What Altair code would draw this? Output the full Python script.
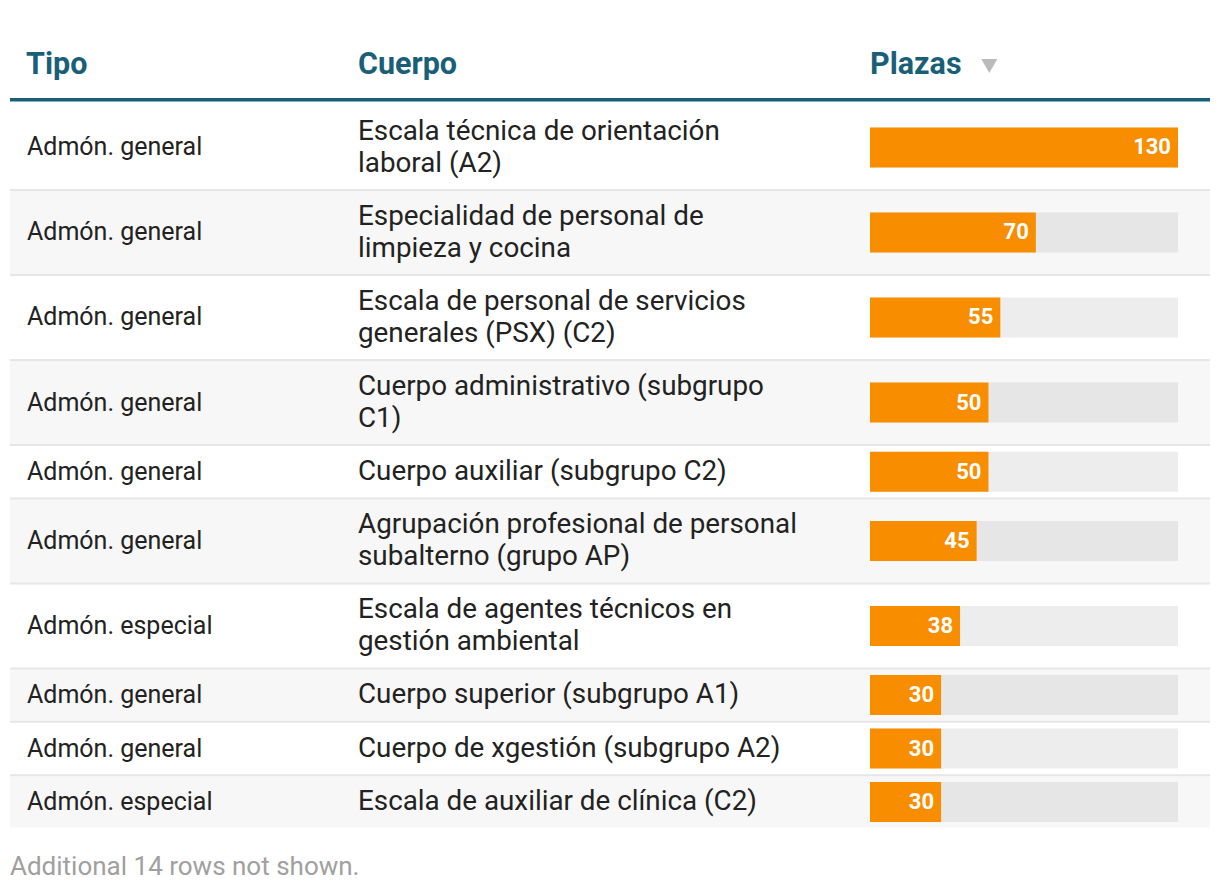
import altair as alt
import pandas as pd

# ---- data ----
tipos = ["Admón. general", "Admón. general", "Admón. general", "Admón. general",
         "Admón. general", "Admón. general", "Admón. especial", "Admón. general",
         "Admón. general", "Admón. especial"]
cuerpos = ["Escala técnica de orientación\nlaboral (A2)",
           "Especialidad de personal de\nlimpieza y cocina",
           "Escala de personal de servicios\ngenerales (PSX) (C2)",
           "Cuerpo administrativo (subgrupo\nC1)",
           "Cuerpo auxiliar (subgrupo C2)",
           "Agrupación profesional de personal\nsubalterno (grupo AP)",
           "Escala de agentes técnicos en\ngestión ambiental",
           "Cuerpo superior (subgrupo A1)",
           "Cuerpo de xgestión (subgrupo A2)",
           "Escala de auxiliar de clínica (C2)"]
plazas = [130, 70, 55, 50, 50, 45, 38, 30, 30, 30]
headers = ["Tipo", "Cuerpo", "Plazas"]
footer = "Additional 14 rows not shown."

# ---- layout (chart pixel coordinates; page = chart + 8) ----
W, H = 1204, 876
LINE_H = 32
PAD_V = 20
SEP = 2
start = 94

rows = []
y = start
for i, (t, c, p) in enumerate(zip(tipos, cuerpos, plazas)):
    n = c.count("\n") + 1
    h = LINE_H * n + PAD_V
    rows.append(dict(tipo=t, cuerpo=c, plazas=p, top=y, bottom=y + h,
                     mid=y + h / 2, text_y=y + h / 2 - (n - 1) * LINE_H / 2,
                     sep_top=y + h, sep_bottom=y + h + SEP,
                     shade="gray" if i % 2 == 1 else "white",
                     last=(i == len(tipos) - 1)))
    y = y + h + SEP
df = pd.DataFrame(rows)

ORANGE = "#f98d00"
TEAL = "#1a5f78"
FONT = "Roboto"

yscale = alt.Scale(domain=[0, H], range=[0, H], zero=False, nice=False)
xscale = alt.Scale(domain=[0, max(plazas)], range=[862, 1170], zero=True, nice=False)

base = alt.Chart(df)

bg = base.transform_filter(alt.datum.shade == "gray").mark_rect(color="#f7f7f7").encode(
    x=alt.value(2), x2=alt.value(1202),
    y=alt.Y("top:Q", scale=yscale, axis=None), y2="bottom:Q")

seps = base.transform_filter(alt.datum.last == False).mark_rect(color="#e6e6e6").encode(
    x=alt.value(2), x2=alt.value(1202),
    y=alt.Y("sep_top:Q", scale=yscale, axis=None), y2="sep_bottom:Q")

track = base.mark_bar(height=40).encode(
    x=alt.value(862), x2=alt.value(1170),
    y=alt.Y("mid:Q", scale=yscale, axis=None),
    color=alt.Color("shade:N", scale=alt.Scale(domain=["white", "gray"],
                                                range=["#ededed", "#e6e6e6"]), legend=None))

bars = base.mark_bar(color=ORANGE, height=40).encode(
    x=alt.X("plazas:Q", scale=xscale, axis=None), x2=alt.value(862),
    y=alt.Y("mid:Q", scale=yscale, axis=None))

labels = base.mark_text(align="right", baseline="middle", dx=-7, font=FONT,
                        fontSize=22, fontWeight="bold", color="white").encode(
    x=alt.X("plazas:Q", scale=xscale, axis=None),
    y=alt.Y("mid:Q", scale=yscale, axis=None),
    text="plazas:Q")

tipo_txt = base.mark_text(align="left", baseline="middle", font=FONT, fontSize=25,
                          color="#222222").encode(
    x=alt.value(19), y=alt.Y("mid:Q", scale=yscale, axis=None), text="tipo:N")

cuerpo_txt = base.mark_text(align="left", baseline="middle", font=FONT, fontSize=27.8,
                            color="#222222", lineBreak="\n", lineHeight=LINE_H).encode(
    x=alt.value(350), y=alt.Y("text_y:Q", scale=yscale, axis=None), text="cuerpo:N")

head_x = [18, 350, 862]
head_layers = []
for htxt, hx in zip(headers, head_x):
    head_layers.append(
        alt.Chart(pd.DataFrame({"h": [htxt]})).mark_text(
            align="left", baseline="alphabetic", font=FONT, fontSize=30.5,
            fontWeight="bold", color=TEAL).encode(
            x=alt.value(hx), y=alt.value(66), text="h:N"))

one = alt.Chart(pd.DataFrame({"k": [0]}))
head_line = one.mark_rect(color=TEAL).encode(
    x=alt.value(2), x2=alt.value(1202), y=alt.value(90), y2=alt.value(93.5))

tri = one.mark_point(shape="triangle-down", filled=True, color="#bbbbbb",
                     size=256, opacity=1).encode(x=alt.value(981.3), y=alt.value(58))

foot = alt.Chart(pd.DataFrame({"t": [footer]})).mark_text(
    align="left", baseline="alphabetic", font=FONT, fontSize=26, color="#a0a0a0").encode(
    x=alt.value(2), y=alt.value(867), text="t:N")

chart = alt.layer(bg, seps, track, bars, labels, tipo_txt, cuerpo_txt,
                  head_line, tri, foot, *head_layers).properties(
    width=W, height=H, padding=0, autosize=alt.AutoSizeParams(type="none"),
    background="white"
).configure_view(stroke=None)

chart.save("out.html", embed_options={"renderer": "svg", "actions": False})
